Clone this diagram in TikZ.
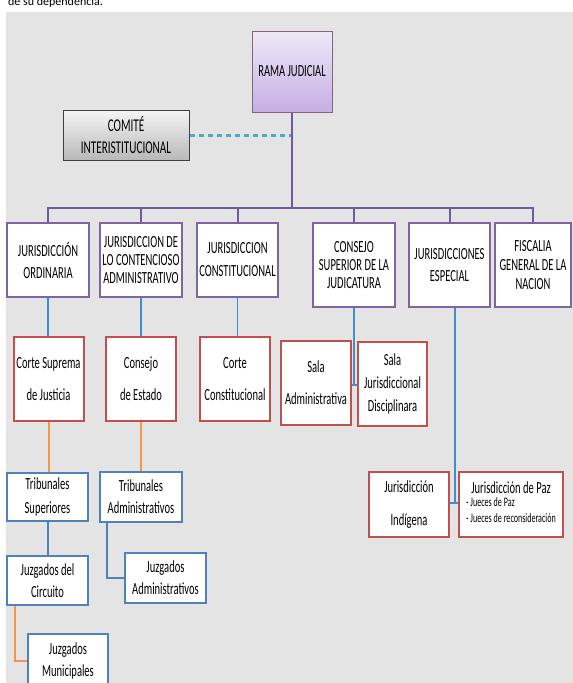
\documentclass[tikz,border=0pt]{standalone}
\usepackage{fontspec}
\usepackage{tikz}
\usetikzlibrary{calc}
\newfontfamily\cajafont[FakeStretch=0.62]{Carlito}
\newfontfamily\textofont{Carlito}
\definecolor{fondo}{HTML}{E4E4E4}
\definecolor{morado}{HTML}{8064A2}
\definecolor{moradobus}{HTML}{6E5A9C}
\definecolor{rojo}{HTML}{C0504D}
\definecolor{azulo}{HTML}{4F81BD}
\definecolor{celeste}{HTML}{3E8ED0}
\definecolor{naranja}{HTML}{F79646}
\definecolor{turquesa}{HTML}{4BACC6}
\definecolor{lilaclaro}{HTML}{EFE8F8}
\definecolor{lilaoscuro}{HTML}{C6AEE3}

\begin{document}
\begin{tikzpicture}[x=1pt,y=-1pt,
  caja/.style={draw,fill=white,line width=2pt,inner sep=0pt,align=center,
    font=\cajafont\fontsize{17}{18}\selectfont},
  nivel/.style={caja,draw=morado,minimum width=82pt},
  corte/.style={caja,draw=rojo,minimum width=70pt,minimum height=84pt},
  tribunal/.style={caja,draw=azulo,minimum width=81pt,minimum height=49pt}]
\useasboundingbox (0,0) rectangle (573,683);
\clip (0,0) rectangle (573,683);
\fill[fondo] (6,12) rectangle (573,683);
\node[anchor=base west,inner sep=0pt,font=\textofont\fontsize{12}{14}\selectfont] (intro) at (8,5) {de su dependencia.};

\node[caja,line width=1pt,draw=gray!80!violet,top color=lilaclaro,bottom color=lilaoscuro,
  minimum width=80pt,minimum height=81pt] (rama) at (292,71.5) {RAMA JUDICIAL};
\node[caja,line width=1pt,draw=black!75,top color=gray!8,bottom color=gray!55,
  minimum width=126pt,minimum height=50pt,font=\cajafont\fontsize{18}{19}\selectfont] (comite) at (126,135) {COMITÉ\\[3pt]INTERISTITUCIONAL};
\draw[turquesa,line width=3pt,dash pattern=on 5pt off 4pt] (comite.east) -- (comite.east -| rama.south);
\coordinate (bus) at (292,208);
\draw[moradobus,line width=1.5pt] (rama.south) -- (bus);

\node[nivel,minimum height=74pt] (j1) at (48,260) {JURISDICCIÓN\\[4pt]ORDINARIA};
\node[nivel,minimum height=74pt] (j2) at (141,260) {JURISDICCION DE\\LO CONTENCIOSO\\ADMINISTRATIVO};
\node[nivel,minimum height=74pt,minimum width=81pt] (j3) at (237.5,260) {JURISDICCION\\[5pt]CONSTITUCIONAL};
\node[nivel,minimum height=84pt] (j4) at (354,265) {CONSEJO\\SUPERIOR DE LA\\JUDICATURA};
\node[nivel,minimum height=84pt,minimum width=81pt] (j5) at (449.5,265) {JURISDICCIONES\\[4pt]ESPECIAL};
\node[nivel,minimum height=84pt,minimum width=76pt] (j6) at (533,265) {FISCALIA\\[1pt]GENERAL DE LA\\[1pt]NACION};
\foreach \n in {j1,j2,j3,j4,j5,j6}
  \draw[moradobus,line width=2pt] (\n.north) |- (bus);

\node[corte] (cs) at (48.5,379) {Corte Suprema\\[14pt]de Justicia};
\node[corte] (ce) at (141,379) {Consejo\\[14pt]de Estado};
\node[corte] (cc) at (235,379) {Corte\\[14pt]Constitucional};
\node[corte] (sa) at (316,383) {Sala\\[14pt]Administrativa};
\node[corte,minimum width=69pt] (sj) at (392.5,384) {Sala\\[5pt]Jurisdiccional\\[5pt]Disciplinara};
\draw[celeste,line width=1.6pt] (j1.south) -- (j1.south |- cs.north);
\draw[celeste,line width=1.6pt] (j2.south) -- (j2.south |- ce.north);
\draw[celeste,line width=1.6pt] (j3.south) -- (j3.south |- cc.north);
\coordinate (cj) at (354,385);
\draw[celeste,line width=1.6pt] (j4.south) -- (cj);
\draw[celeste,line width=1.6pt] (sa.east |- cj) -- (sj.west |- cj);

\node[corte,minimum width=80pt,minimum height=65pt] (ji) at (409,504.5) {Jurisdicción\\[15pt]Indígena};
\node[corte,minimum width=104pt,minimum height=65pt] (jp) at (511,504.5)
  {Jurisdicción de Paz\\[1pt]
   \fontsize{13}{16}\selectfont\begin{tabular}{@{}l@{}}- Jueces de Paz\\- Jueces de reconsideración\end{tabular}};
\coordinate (cp) at (455,503);
\draw[celeste,line width=1.6pt] (cp |- j5.south) -- (cp);
\draw[celeste,line width=1.6pt] (ji.east |- cp) -- (jp.west |- cp);

\node[tribunal,minimum height=48pt] (ts) at (47.5,497) {Tribunales\\[6pt]Superiores};
\node[tribunal,minimum width=82pt,minimum height=50pt] (ta) at (141,497) {Tribunales\\[4pt]Administrativos};
\node[tribunal] (jc) at (47.5,580.5) {Juzgados del\\[4pt]Circuito};
\node[tribunal,minimum height=50pt] (ja) at (165.5,578) {Juzgados\\[4pt]Administrativos};
\node[tribunal,minimum width=80pt,minimum height=54pt] (jm) at (68,661) {Juzgados\\[4pt]Municipales};
\draw[naranja,line width=2pt] (cs.south) -- (cs.south |- ts.north);
\draw[naranja,line width=2pt] (ce.south) -- (ce.south |- ta.north);
\draw[azulo,line width=2pt] (ts.south) -- (jc.north);
\draw[azulo,line width=2pt] ([xshift=8pt]ta.south west) |- (ja.west);
\draw[naranja,line width=2pt] ([xshift=9pt]jc.south west) |- (jm.west);
\end{tikzpicture}
\end{document}
